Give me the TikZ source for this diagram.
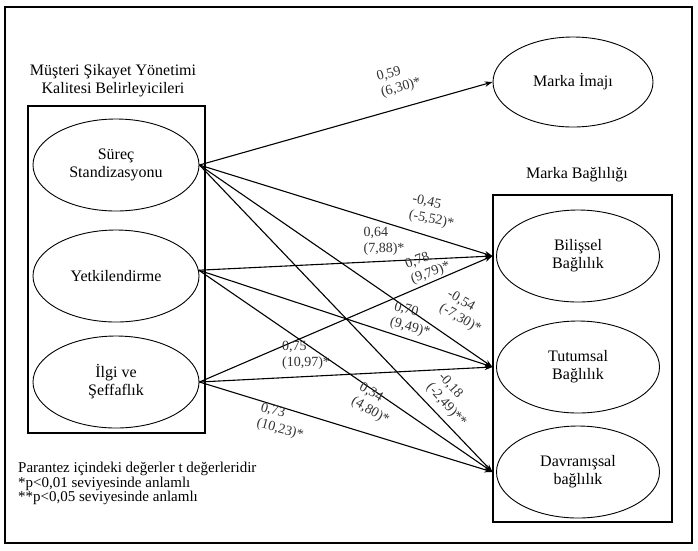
\documentclass[tikz,border=0pt]{standalone}
\usepackage{fontspec}
\setmainfont{Liberation Serif}
\usetikzlibrary{arrows.meta,shapes.geometric}
\begin{document}
\begin{tikzpicture}[x=1pt,y=-1pt,
  ell/.style={draw, ellipse, line width=0.9pt, minimum width=166pt, minimum height=92pt, inner sep=0pt, align=center, font=\fontsize{16}{18}\selectfont},
  box/.style={draw, line width=1.1pt, inner sep=0pt},
  conn/.style={line width=1.1pt, -{Stealth[length=8pt,width=5.5pt]}},
  lbl/.style={align=left, font=\fontsize{14}{16}\selectfont, text=black!80, inner sep=0pt},
  ttl/.style={align=center, font=\fontsize{16}{18}\selectfont}]
\useasboundingbox (0,0) rectangle (698,550);
\draw[line width=1.4pt] (5,7) rectangle (692,543);

\node[box, minimum width=177pt, minimum height=327pt] (lbox) at (116.5,269.5) {};
\node[box, minimum width=179pt, minimum height=327pt] (rbox) at (582.5,358.5) {};

\node[ell] (sur) at (116,165) {Süreç\\Standizasyonu};
\node[ell] (yet) at (116,276) {Yetkilendirme};
\node[ell] (ilg) at (116,382) {İlgi ve\\Şeffaflık};
\node[ell, minimum width=160pt, minimum height=90pt] (mi) at (573,82) {Marka İmajı};
\node[ell, minimum width=163pt] (bil) at (578,256) {Bilişsel\\Bağlılık};
\node[ell, minimum width=163pt] (tut) at (578,367) {Tutumsal\\Bağlılık};
\node[ell, minimum width=163pt] (dav) at (578,472) {Davranışsal\\bağlılık};

\node[ttl] (t1) at (113,81) {Müşteri Şikayet Yönetimi\\Kalitesi Belirleyicileri};
\node[ttl] (t2) at (577,175) {Marka Bağlılığı};

\coordinate (bin) at (rbox.west |- bil.west);
\coordinate (tin) at (rbox.west |- tut.west);
\coordinate (din) at (rbox.west |- dav.west);

\draw[conn] (sur.east) -- (mi.west);
\draw[conn] (sur.east) -- (bin);
\draw[conn] (sur.east) -- (tin);
\draw[conn] (sur.east) -- (din);
\draw[conn] (yet.4) -- (bin);
\draw[conn] (yet.4) -- (tin);
\draw[conn] (yet.4) -- (din);
\draw[conn] (ilg.east) -- (bin);
\draw[conn] (ilg.east) -- (tin);
\draw[conn] (ilg.east) -- (din);

\node[lbl, rotate=16] (l1) at (399,80) {0,59\\(6,30)*};
\node[lbl, rotate=-12] (l2) at (433,212) {-0,45\\(-5,52)*};
\node[lbl] (l3) at (384,241.5) {0,64\\(7,88)*};
\node[lbl, rotate=20] (l4) at (428,266) {0,78\\(9,79)*};
\node[lbl, rotate=-15] (l5) at (412,320) {0,70\\(9,49)*};
\node[lbl, rotate=-30] (l6) at (464,312) {-0,54\\(-7,30)*};
\node[lbl] (l7) at (306,355) {0,75\\(10,97)*};
\node[lbl, rotate=-30] (l8) at (374,404) {0,34\\(4,80)*};
\node[lbl, rotate=-48] (l9) at (452,400) {-0,18\\(-2,49)**};
\node[lbl, rotate=-15] (l10) at (282,422) {0,73\\(10,23)*};

\node[anchor=west, align=left, font=\fontsize{15}{14.5}\selectfont, inner sep=0pt] (fn) at (18,483.5) {Parantez içindeki değerler t değerleridir\\{}*p<0,01 seviyesinde anlamlı\\{}**p<0,05 seviyesinde anlamlı};
\end{tikzpicture}
\end{document}
